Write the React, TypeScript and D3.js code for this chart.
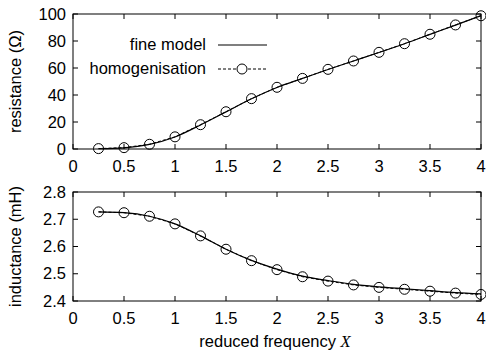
import { useEffect, useRef } from "react"
import * as d3 from "d3"

// reduced frequency samples
const freq = [0.25, 0.5, 0.75, 1, 1.25, 1.5, 1.75, 2, 2.25, 2.5, 2.75, 3, 3.25, 3.5, 3.75, 4]

// resistance (Ohm)
const resFine = [0.2, 0.9, 3.4, 8.9, 17.8, 27.5, 37.2, 45.6, 52.3, 58.9, 65.2, 71.5, 78.0, 84.9, 91.8, 98.8]
const resHomog = [0.3, 1.0, 3.5, 9.0, 18.0, 27.6, 37.3, 45.7, 52.3, 59.0, 65.2, 71.6, 78.0, 85.0, 91.9, 98.7]

// inductance (mH)
const indFine = [2.727, 2.724, 2.711, 2.683, 2.639, 2.590, 2.549, 2.517, 2.491, 2.475, 2.461, 2.452, 2.445, 2.438, 2.431, 2.426]
const indHomog = [2.727, 2.724, 2.711, 2.683, 2.639, 2.590, 2.548, 2.515, 2.489, 2.473, 2.459, 2.450, 2.443, 2.436, 2.429, 2.424]

const xTicks = [0, 0.5, 1, 1.5, 2, 2.5, 3, 3.5, 4]
const resTicks = [0, 20, 40, 60, 80, 100]
const indTicks = [2.4, 2.5, 2.6, 2.7, 2.8]

const FONT = "'Liberation Sans', Arial, sans-serif"
const FS = 16.5

export default function App() {
  const svgRef = useRef<SVGSVGElement>(null)

  useEffect(() => {
    if (!svgRef.current) return
    const svg = d3.select(svgRef.current)
    svg.selectAll("*").remove()

    const left = 73
    const right = 481
    const x = d3.scaleLinear().domain([0, 4]).range([left, right])

    const drawPanel = (
      top: number,
      bottom: number,
      domain: [number, number],
      ticks: number[],
      fmt: (v: number) => string,
      fine: number[],
      homog: number[],
      label: string
    ) => {
      const y = d3.scaleLinear().domain(domain).range([bottom, top])
      const g = svg.append("g")
      const tick = 5

      // ticks (inward, both sides)
      xTicks.forEach(t => {
        g.append("line").attr("x1", x(t)).attr("x2", x(t)).attr("y1", bottom).attr("y2", bottom - tick)
          .attr("stroke", "#000")
        g.append("line").attr("x1", x(t)).attr("x2", x(t)).attr("y1", top).attr("y2", top + tick)
          .attr("stroke", "#000")
        g.append("text").attr("x", x(t)).attr("y", bottom + 23).attr("text-anchor", "middle")
          .attr("font-family", FONT).attr("font-size", FS).text(String(t))
      })
      ticks.forEach(t => {
        g.append("line").attr("x1", left).attr("x2", left + tick).attr("y1", y(t)).attr("y2", y(t))
          .attr("stroke", "#000")
        g.append("line").attr("x1", right).attr("x2", right - tick).attr("y1", y(t)).attr("y2", y(t))
          .attr("stroke", "#000")
        g.append("text").attr("x", left - 7).attr("y", y(t) + 5.5).attr("text-anchor", "end")
          .attr("font-family", FONT).attr("font-size", FS).text(fmt(t))
      })

      // frame
      g.append("rect").attr("x", left).attr("y", top).attr("width", right - left).attr("height", bottom - top)
        .attr("fill", "none").attr("stroke", "#000").attr("stroke-width", 1)

      // y label
      g.append("text")
        .attr("transform", `translate(21,${(top + bottom) / 2}) rotate(-90)`)
        .attr("text-anchor", "middle").attr("font-family", FONT).attr("font-size", FS).text(label)

      const lineFine = d3.line<number>().x((_, i) => x(freq[i])).y(d => y(d)).curve(d3.curveMonotoneX)
      const lineHomog = d3.line<number>().x((_, i) => x(freq[i])).y(d => y(d))

      g.append("path").attr("d", lineHomog(homog)).attr("fill", "none").attr("stroke", "#000")
        .attr("stroke-width", 1).attr("stroke-dasharray", "3,2")
      g.append("path").attr("d", lineFine(fine)).attr("fill", "none").attr("stroke", "#000")
        .attr("stroke-width", 1.2)

      g.selectAll("circle.pt").data(homog).enter().append("circle").attr("class", "pt")
        .attr("cx", (_, i) => x(freq[i])).attr("cy", d => y(d)).attr("r", 5)
        .attr("fill", "none").attr("stroke", "#000").attr("stroke-width", 1)
    }

    drawPanel(14, 149, [0, 100], resTicks, v => String(v), resFine, resHomog, "resistance (Ω)")
    drawPanel(192, 301, [2.4, 2.8], indTicks, v => v.toFixed(1), indFine, indHomog, "inductance (mH)")

    // legend
    const lg = svg.append("g")
    lg.append("text").attr("x", 206).attr("y", 50).attr("text-anchor", "end")
      .attr("font-family", FONT).attr("font-size", FS).text("fine model")
    lg.append("line").attr("x1", 218).attr("x2", 267).attr("y1", 45).attr("y2", 45)
      .attr("stroke", "#000").attr("stroke-width", 1.2)
    lg.append("text").attr("x", 206).attr("y", 74).attr("text-anchor", "end")
      .attr("font-family", FONT).attr("font-size", FS).text("homogenisation")
    lg.append("line").attr("x1", 218).attr("x2", 267).attr("y1", 69).attr("y2", 69)
      .attr("stroke", "#000").attr("stroke-width", 1).attr("stroke-dasharray", "3,2")
    lg.append("circle").attr("cx", 242).attr("cy", 69).attr("r", 5)
      .attr("fill", "#fff").attr("stroke", "#000")

    // x label
    const xl = svg.append("text").attr("x", 275).attr("y", 347).attr("text-anchor", "middle")
      .attr("font-family", FONT).attr("font-size", FS)
    xl.append("tspan").text("reduced frequency ")
    xl.append("tspan").attr("font-family", "'Liberation Serif', 'Times New Roman', serif")
      .attr("font-style", "italic").text("X")
  }, [])

  return (
    <svg
      ref={svgRef}
      width={486}
      height={354}
      style={{ position: "absolute", left: 0, top: 0, background: "#fff" }}
    />
  )
}
